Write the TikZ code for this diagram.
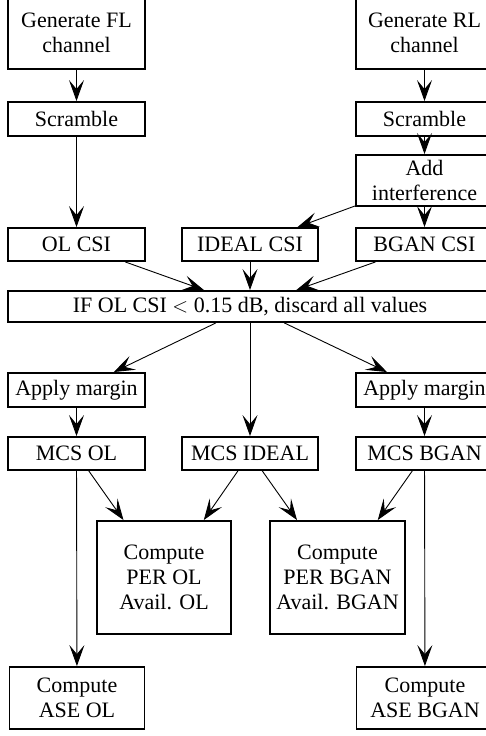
\documentclass[tikz,border=0pt]{standalone}
\usepackage{fontspec}
\setmainfont{Liberation Serif}
\usetikzlibrary{arrows.meta}
\begin{document}
\begin{tikzpicture}[x=1pt,y=-1pt,
  box/.style={draw, line width=1.9pt, inner sep=0pt, align=center, font=\fontsize{22}{25}\selectfont},
  conn/.style={line width=0.9pt, -{Stealth[length=21pt,width=15pt,inset=9pt]}}]
\useasboundingbox (0,0) rectangle (486,736);
\begin{scope}
\clip (0,0) rectangle (486,736);
% row 1
\node[box, minimum width=137pt, minimum height=72pt] (genfl) at (76.5,33) {Generate FL\\channel};
\node[box, minimum width=137pt, minimum height=72pt] (genrl) at (424.5,33) {Generate RL\\channel};
% scramble
\node[box, minimum width=137pt, minimum height=34pt] (scrl) at (76.5,119) {Scramble};
\node[box, minimum width=137pt, minimum height=34pt] (scrr) at (424.5,119) {Scramble};
% add interference
\node[box, minimum width=137pt, minimum height=51pt] (addi) at (424.5,180.5) {Add\\interference};
% csi row
\node[box, minimum width=137pt, minimum height=33pt] (olcsi) at (76.5,244.5) {OL CSI};
\node[box, minimum width=136pt, minimum height=33pt] (idcsi) at (250,244.5) {IDEAL CSI};
\node[box, minimum width=137pt, minimum height=33pt] (bgcsi) at (424.5,244.5) {BGAN CSI};
% IF
\node[box, minimum width=484pt, minimum height=31pt] (iff) at (250,306.5) {IF OL CSI $<$ 0.15 dB, discard all values};
% apply margin
\node[box, minimum width=137pt, minimum height=34pt] (apl) at (76.5,390) {Apply margin};
\node[box, minimum width=137pt, minimum height=34pt] (apr) at (424.5,390) {Apply margin};
% MCS
\node[box, minimum width=137pt, minimum height=33pt] (mcsol) at (76.5,453.5) {MCS OL};
\node[box, minimum width=136pt, minimum height=33pt] (mcsid) at (250,453.5) {MCS IDEAL};
\node[box, minimum width=137pt, minimum height=33pt] (mcsbg) at (424.5,453.5) {MCS BGAN};
% PER
\node[box, minimum width=134pt, minimum height=113pt] (perol) at (164,577.5) {Compute\\PER OL\\Avail. OL};
\node[box, minimum width=135pt, minimum height=113pt] (perbg) at (337.5,577.5) {Compute\\PER BGAN\\Avail. BGAN};
% ASE
\node[box, minimum width=135pt, minimum height=62pt] (aseol) at (77,698) {Compute\\ASE OL};
\node[box, minimum width=137pt, minimum height=62pt] (asebg) at (425,698) {Compute\\ASE BGAN};
% connectors
\draw[conn] (genfl) -- (scrl);
\draw[conn] (scrl) -- (olcsi);
\draw[conn] (genrl) -- (scrr);
\draw[conn] (scrr) -- (addi);
\draw[conn] (addi) -- (bgcsi);
\draw[conn] (addi) -- (idcsi);
\draw[conn] (olcsi) -- (iff);
\draw[conn] (idcsi) -- (iff);
\draw[conn] (bgcsi) -- (iff);
\draw[conn] (iff) -- (apl);
\draw[conn] (iff) -- (mcsid);
\draw[conn] (iff) -- (apr);
\draw[conn] (apl) -- (mcsol);
\draw[conn] (apr) -- (mcsbg);
\draw[conn] (mcsol) -- (perol);
\draw[conn] (mcsid) -- (perol);
\draw[conn] (mcsid) -- (perbg);
\draw[conn] (mcsbg) -- (perbg);
\draw[conn] (mcsol) -- (aseol);
\draw[conn] (mcsbg) -- (asebg);
\end{scope}
\end{tikzpicture}
\end{document}
